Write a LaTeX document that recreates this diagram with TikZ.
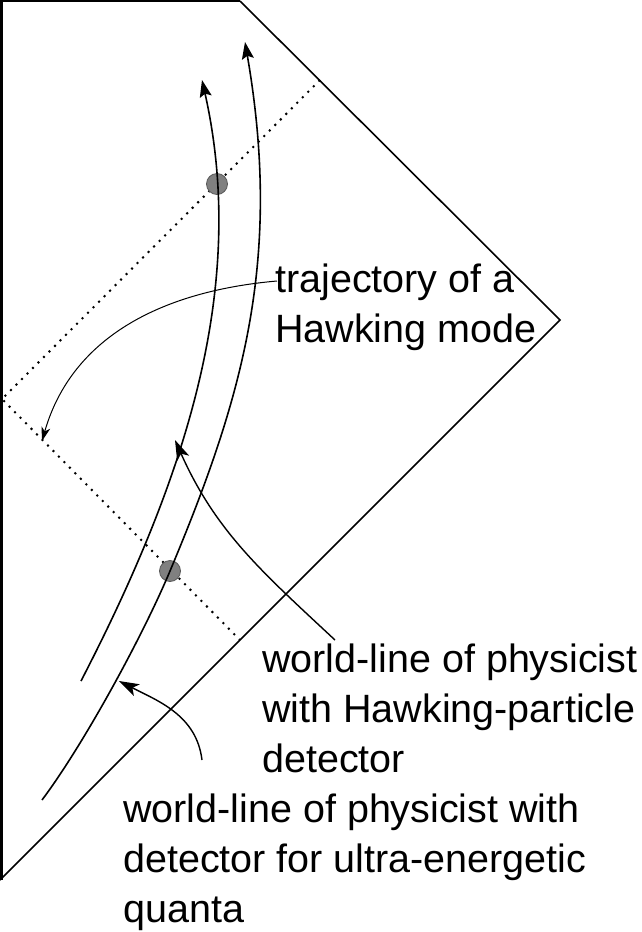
\documentclass[tikz,border=0pt]{standalone}
\usepackage{fontspec}
\setmainfont{Liberation Sans}
\usetikzlibrary{arrows.meta}
\begin{document}
\begin{tikzpicture}[x=1pt,y=-1pt,
  wline/.style={line width=1.6pt,-{Stealth[length=17pt,width=12pt,inset=3pt]}},
  pointer/.style={line width=1.4pt,-{Stealth[length=20pt,width=13pt,inset=5pt]}},
  thinpointer/.style={line width=1pt,-{Stealth[length=14pt,width=9pt,inset=4pt]}},
  lightray/.style={line width=2pt,dash pattern=on 2pt off 5.8pt},
  event/.style={circle,fill=black!50,draw=black!65,line width=0.8pt,minimum size=21pt,inner sep=0pt},
  note/.style={anchor=base west,align=left,inner sep=0pt,font=\fontsize{39.5}{50}\selectfont}]
\useasboundingbox (0,0) rectangle (641,932);
\coordinate (O) at (1.3,880);
\coordinate (top) at (240,1);
\coordinate (right) at (560,320);
\coordinate (corner) at (1.3,1);
\draw[line width=2.6pt] (O) -- (corner) -- (top);
\draw[line width=1.6pt] (top) -- (right) -- (0,880);
\coordinate (rayout) at (320,80);
\coordinate (rayturn) at (2,399);
\coordinate (rayin) at (240,640);
\draw[lightray] (rayout) -- (rayturn) -- (rayin);
\node[event] (e1) at (217,184) {};
\node[event] (e2) at (170,571) {};
\draw[wline] (81,681) .. controls (187,476) and (248,285) .. (202,80);
\draw[wline] (42,800) .. controls (84,744) and (143,635.5) .. (e2.center)
  .. controls (243.5,395.8) and (282.4,258.7) .. (245,42);
% last baselines of the notes
\node[note] (traj) at (275,342.5) {trajectory of a\\Hawking mode};
\node[note] (hawk) at (262,772.5) {world-line of physicist\\with Hawking-particle\\detector};
\node[note] (ultra) at (123,922) {world-line of physicist with\\detector for ultra-energetic\\quanta};
\coordinate (trajfrom) at (277,281);
\coordinate (trajto) at (42,441);
\coordinate (hawkfrom) at (335,640);
\coordinate (hawkto) at (175,440);
\coordinate (ultrafrom) at (202,760);
\coordinate (ultrato) at (119,681);
\draw[thinpointer] (trajfrom) to[out=185,in=74] (trajto);
\draw[pointer] (hawkfrom) to[out=137,in=-66] (hawkto);
\draw[pointer] (ultrafrom) to[out=97,in=-27] (ultrato);
\end{tikzpicture}
\end{document}
